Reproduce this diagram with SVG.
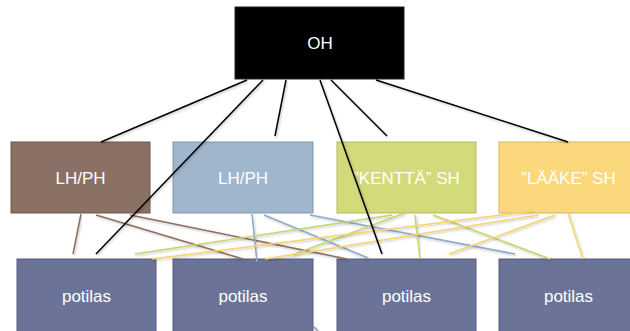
<svg xmlns="http://www.w3.org/2000/svg" width="630" height="331" viewBox="0 0 630 331">
<defs>
<filter id="sh" x="-10%" y="-10%" width="120%" height="120%">
<feDropShadow dx="1" dy="1.2" stdDeviation="0.8" flood-color="#000" flood-opacity="0.25"/>
</filter>
</defs>
<style>
text{font-family:"Liberation Sans",Arial,sans-serif;font-size:17px;fill:#ffffff;text-anchor:middle}
.box{stroke-width:1}
.oh{fill:#000000;stroke:#222}
.br{fill:#8B7066;stroke:#6F574E}
.bl{fill:#A0B6CC;stroke:#8197AE}
.gr{fill:#D2DA7B;stroke:#B3BB5E}
.ye{fill:#FAD87B;stroke:#D9B85E}
.po{fill:#6C7399;stroke:#545A7D}
.c{fill:none;stroke-width:1.5;filter:url(#sh)}
.k{stroke:#000}
.cb{stroke:#8C6E62}
.cl{stroke:#8DABC8}
.cg{stroke:#C8D46C}
.cy{stroke:#F8D46A}
</style>
<g id="node-oh"><rect class="box oh" x="235" y="7" width="169" height="72"/><text x="320" y="49">OH</text></g>
<g id="node-lhph1"><rect class="box br" x="11" y="142" width="139" height="71"/><text x="80.5" y="184">LH/PH</text></g>
<g id="node-lhph2"><rect class="box bl" x="173" y="142" width="140" height="71"/><text x="243" y="184">LH/PH</text></g>
<g id="node-kentta"><rect class="box gr" x="337" y="142" width="139" height="71"/><text x="406.5" y="184">”KENTTÄ” SH</text></g>
<g id="node-laake"><rect class="box ye" x="499" y="142" width="139" height="71"/><text x="568.5" y="184">”LÄÄKE” SH</text></g>
<g id="node-potilas1"><rect class="box po" x="17" y="259" width="139" height="76"/><text x="86.5" y="302">potilas</text></g>
<g id="node-potilas2"><rect class="box po" x="173" y="259" width="140" height="76"/><text x="243" y="302">potilas</text></g>
<g id="node-potilas3"><rect class="box po" x="337" y="259" width="139" height="76"/><text x="406.5" y="302">potilas</text></g>
<g id="node-potilas4"><rect class="box po" x="499" y="259" width="139" height="76"/><text x="568.5" y="302">potilas</text></g>
<g id="connectors">
<line class="c cb" x1="81" y1="214" x2="73" y2="254"/>
<line class="c cb" x1="96" y1="215" x2="243" y2="259"/>
<line class="c cb" x1="130" y1="215" x2="347" y2="259"/>
<line class="c cl" x1="252" y1="214" x2="257" y2="262"/>
<line class="c cl" x1="264" y1="215" x2="368" y2="258"/>
<line class="c cl" x1="310" y1="215" x2="515" y2="254"/>
<line class="c cg" x1="392" y1="215" x2="135" y2="254"/>
<line class="c cg" x1="405" y1="213" x2="292" y2="255"/>
<line class="c cg" x1="415" y1="215" x2="420" y2="259"/>
<line class="c cg" x1="433" y1="215" x2="550" y2="259"/>
<line class="c cy" x1="533" y1="211" x2="152" y2="259"/>
<line class="c cy" x1="538" y1="215" x2="265" y2="259"/>
<line class="c cy" x1="555" y1="215" x2="449" y2="254"/>
<line class="c cy" x1="568" y1="213" x2="583" y2="259"/>
<line class="c k" x1="247" y1="80" x2="101" y2="142"/>
<line class="c k" x1="263" y1="80" x2="96" y2="254"/>
<line class="c k" x1="286" y1="80" x2="275" y2="136"/>
<line class="c k" x1="320" y1="80" x2="382" y2="254"/>
<line class="c k" x1="331" y1="80" x2="387" y2="136"/>
<line class="c k" x1="376" y1="80" x2="568" y2="142"/>
<line class="c" stroke="#8E95B8" x1="313" y1="326" x2="318" y2="331"/>
</g>
</svg>
